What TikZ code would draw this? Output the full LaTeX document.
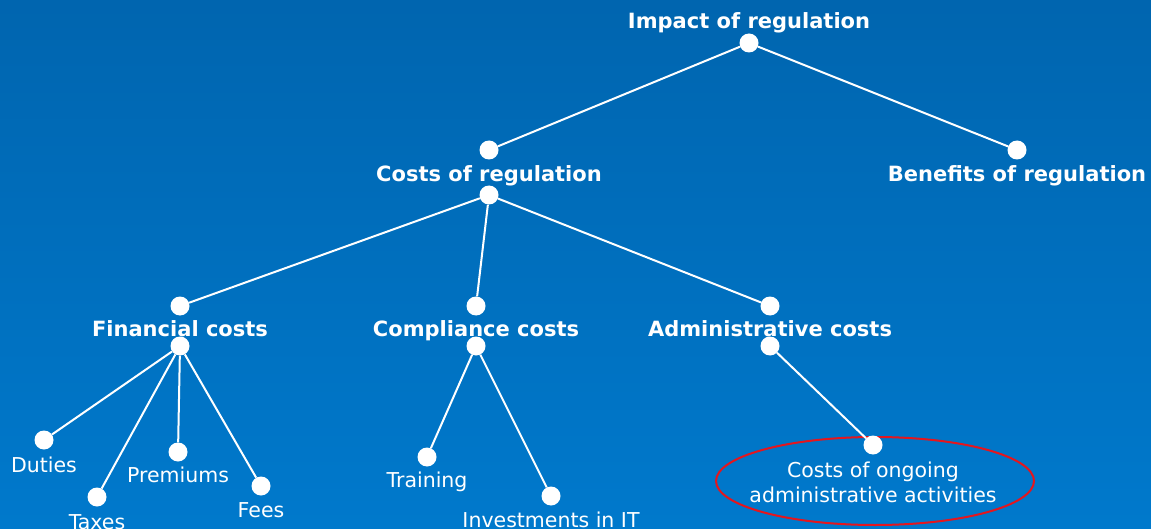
\documentclass[tikz,border=0pt]{standalone}
\usepackage{fontspec}
\setmainfont{DejaVu Sans}
\definecolor{bgtop}{RGB}{0,101,175}
\definecolor{bgbot}{RGB}{0,121,204}
\definecolor{ringred}{RGB}{228,22,30}
\begin{document}
\begin{tikzpicture}[x=1pt,y=-1pt]
        \tikzstyle{every node}+=[inner sep=0pt]
        \tikzstyle{dot}=[circle, fill=white, minimum size=19pt]
        \tikzstyle{head}=[anchor=base, text=white, font=\fontsize{21}{25}\selectfont\bfseries]
        \tikzstyle{leaf}=[anchor=base, text=white, font=\fontsize{20.5}{25}\selectfont, align=center]
        \tikzstyle{link}=[white, line width=2pt]
        \shade [top color=bgtop, bottom color=bgbot] (0,0) rectangle (1151,528);
        % labels first, the dots sit on top of them
        \node [head] at (749,29) {Impact of regulation};
        \node [head] at (489,182) {Costs of regulation};
        \node [head] at (1017,182) {Benefits of regulation};
        \node [head] at (180,336) {Financial costs};
        \node [head] at (476,336) {Compliance costs};
        \node [head] at (770,336) {Administrative costs};
        \node [leaf] at (44,472) {Duties};
        \node [leaf] at (97,529) {Taxes};
        \node [leaf] at (178,482) {Premiums};
        \node [leaf] at (261,517) {Fees};
        \node [leaf] at (427,487) {Training};
        \node [leaf] at (551,527) {Investments in IT};
        \node [leaf] at (873,502) {Costs of ongoing\\administrative activities};
        \draw [ringred, line width=2pt] (875,481) ellipse [x radius=159pt, y radius=44pt];
        % dots
        \node [dot] (impact) at (749,43) {};
        \node [dot] (costs) at (489,150) {};
        \node [dot] (costsb) at (489,195) {};
        \node [dot] (benefits) at (1017,150) {};
        \node [dot] (fin) at (180,306) {};
        \node [dot] (finb) at (180,346) {};
        \node [dot] (comp) at (476,306) {};
        \node [dot] (compb) at (476,346) {};
        \node [dot] (adm) at (770,306) {};
        \node [dot] (admb) at (770,346) {};
        \node [dot] (duties) at (44,440) {};
        \node [dot] (taxes) at (97,497) {};
        \node [dot] (prem) at (178,452) {};
        \node [dot] (fees) at (261,486) {};
        \node [dot] (train) at (427,457) {};
        \node [dot] (invest) at (551,496) {};
        \node [dot] (ongoing) at (873,445) {};
        % connectors
        \draw [link] (impact) -- (costs);
        \draw [link] (impact) -- (benefits);
        \draw [link] (costsb) -- (fin);
        \draw [link] (costsb) -- (comp);
        \draw [link] (costsb) -- (adm);
        \draw [link] (finb) -- (duties);
        \draw [link] (finb) -- (taxes);
        \draw [link] (finb) -- (prem);
        \draw [link] (finb) -- (fees);
        \draw [link] (compb) -- (train);
        \draw [link] (compb) -- (invest);
        \draw [link] (admb) -- (ongoing);
\end{tikzpicture}
\end{document}
